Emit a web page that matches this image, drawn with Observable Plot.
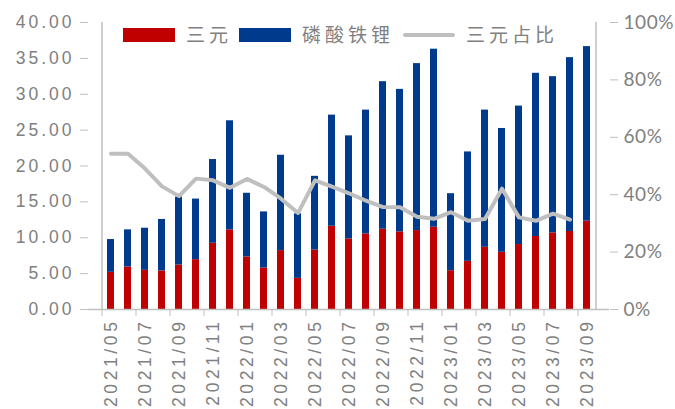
<!DOCTYPE html>
<html>
<head>
<meta charset="utf-8">
<script src="https://cdn.jsdelivr.net/npm/d3@7"></script>
<script src="https://cdn.jsdelivr.net/npm/@observablehq/plot@0.6"></script>
<style>
  html, body { margin: 0; padding: 0; background: #fff; }
  #wrap { position: relative; width: 675px; height: 409px; }
  .lg { position: absolute; }
  .sw { position: absolute; height: 14px; width: 52px; }
  .lt { position: absolute; font-family: "Noto Sans CJK SC", sans-serif; font-size: 19px; color: #808080; letter-spacing: 4px; line-height: 20px; }
</style>
</head>
<body>
<div id="wrap"></div>
<script>
const months = ["2021/05","2021/06","2021/07","2021/08","2021/09","2021/10","2021/11","2021/12",
  "2022/01","2022/02","2022/03","2022/04","2022/05","2022/06","2022/07","2022/08","2022/09","2022/10","2022/11","2022/12",
  "2023/01","2023/02","2023/03","2023/04","2023/05","2023/06","2023/07","2023/08","2023/09"];
const ternary = [5.18,5.93,5.46,5.37,6.20,6.95,9.23,11.10,7.33,5.79,8.21,4.34,8.30,11.60,9.84,10.54,11.19,10.82,11.00,11.47,5.41,6.71,8.67,7.97,9.05,10.17,10.68,10.87,12.31];
const lfp = [4.57,5.17,5.87,7.18,9.47,8.44,11.67,15.20,8.87,7.81,13.29,9.00,10.26,15.49,14.36,17.25,20.56,19.86,23.27,24.81,10.73,15.25,19.12,17.26,19.30,22.75,21.77,24.23,24.33];
const ternaryShare = [54.3,54.3,49.1,42.9,39.5,45.6,45.0,42.4,45.5,42.7,38.6,33.6,45.0,42.8,40.5,37.9,35.7,35.6,32.3,31.6,33.9,30.9,31.5,42.1,32.1,30.9,33.4,31.3,null];
const seriesNames = ["三元","磷酸铁锂"];
const lineName = "三元占比";
const leftTicks = [0,5,10,15,20,25,30,35,40];
const rightTicks = [0,20,40,60,80,100];
const xTickMonths = months.filter((d, i) => i % 2 === 0);

const red = "#C00000", blue = "#003A8C", gray = "#BFBFBF", textGray = "#808080";
const leftMax = 40, rightMax = 100;
const toLeft = p => p * leftMax / rightMax;

const bars = [];
months.forEach((m, i) => {
  bars.push({month: m, series: seriesNames[0], value: ternary[i]});
  bars.push({month: m, series: seriesNames[1], value: lfp[i]});
});
const shareRows = months.map((m, i) => ({month: m, share: ternaryShare[i]})).filter(d => d.share != null);
const edges = [{month: months[0]}, {month: months[months.length - 1]}];

const chart = Plot.plot({
  width: 675, height: 409,
  marginLeft: 88, marginRight: 66, marginTop: 22, marginBottom: 100,
  style: {fontFamily: "'Liberation Sans', Arial, sans-serif", background: "#fff"},
  x: {domain: months, paddingInner: 0.57, paddingOuter: 0.285, label: null},
  y: {domain: [0, leftMax], label: null},
  color: {domain: seriesNames, range: [red, blue]},
  marks: [
    Plot.barY(bars, {x: "month", y: "value", fill: "series", order: seriesNames}),
    Plot.line(shareRows, {x: "month", y: d => toLeft(d.share), stroke: gray, strokeWidth: 4, strokeLinejoin: "round"}),
    Plot.ruleY([0], {stroke: gray, strokeWidth: 1.5}),
    Plot.ruleX([edges[0]], {x: "month", dx: -9, stroke: gray, strokeWidth: 1.5}),
    Plot.ruleX([edges[1]], {x: "month", dx: 9, stroke: gray, strokeWidth: 1.5}),
    Plot.axisY({anchor: "left", ticks: leftTicks, tickSize: 8, tickPadding: 6, stroke: gray,
      tickFormat: d => d.toFixed(2), fill: textGray, fontSize: 17.5, label: null}),
    Plot.axisY({anchor: "right", ticks: rightTicks.map(toLeft), tickSize: 8, tickPadding: 6, stroke: gray,
      tickFormat: d => Math.round(d * rightMax / leftMax) + "%", fill: textGray, fontSize: 19,
      fontFamily: "Lato, sans-serif", label: null}),
    Plot.axisX({ticks: xTickMonths, tickSize: 7, tickFormat: () => "", dx: -9, stroke: gray, label: null}),
    Plot.axisX({ticks: xTickMonths, tickSize: 0, tickPadding: 9, tickRotate: -90, fill: textGray,
      fontSize: 17.5, label: null})
  ]
});

// letter spacing on tick labels, by axis
d3.select(chart).selectAll("text").each(function() {
  const s = this.textContent;
  if (s.includes("%")) this.style.letterSpacing = "0.6px";
  else if (s.includes("/")) this.style.letterSpacing = "3.6px";
  else if (s.includes(".")) this.style.letterSpacing = "3px";
});

const wrap = document.getElementById("wrap");
wrap.appendChild(chart);

// legend (overlaid inside plot area, as in the reference)
const legendItems = [
  {type: "swatch", color: red, left: 123, label: seriesNames[0], textLeft: 186},
  {type: "swatch", color: blue, left: 239, label: seriesNames[1], textLeft: 302},
  {type: "line", color: gray, left: 403, label: lineName, textLeft: 466}
];
legendItems.forEach(it => {
  const s = document.createElement("div");
  s.className = "lg";
  if (it.type === "swatch") {
    s.className = "sw";
    s.style.left = it.left + "px"; s.style.top = "28px"; s.style.background = it.color;
  } else {
    s.style.left = it.left + "px"; s.style.top = "33px"; s.style.width = "52px"; s.style.height = "4px";
    s.style.background = it.color; s.style.borderRadius = "2px";
  }
  wrap.appendChild(s);
  const t = document.createElement("div");
  t.className = "lt";
  t.style.left = it.textLeft + "px"; t.style.top = "24px";
  t.textContent = it.label;
  wrap.appendChild(t);
});
</script>
</body>
</html>
